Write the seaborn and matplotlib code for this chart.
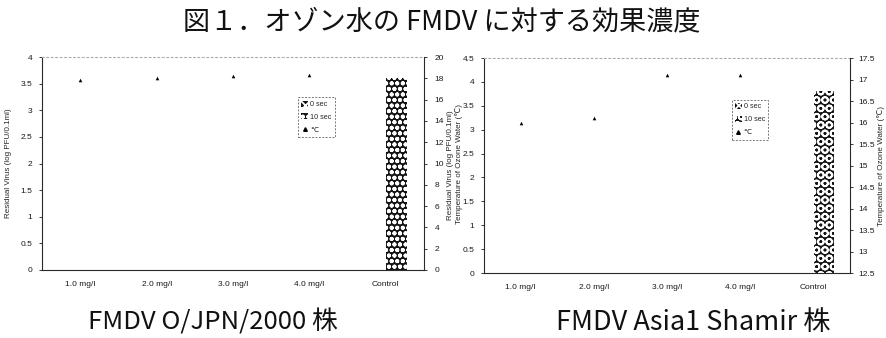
import matplotlib
matplotlib.use("Agg")
import matplotlib.pyplot as plt
from matplotlib.patches import Patch
from matplotlib.lines import Line2D
from matplotlib.ticker import FuncFormatter, MultipleLocator
import seaborn as sns
import pandas as pd

# ---- data ----
concentrations = ["1.0 mg/l", "2.0 mg/l", "3.0 mg/l", "4.0 mg/l", "Control"]
contact_times = ["0 sec", "10 sec"]

# residual virus, log PFU/0.1ml
jpn_virus_0s = [0, 0, 0, 0, 0]
jpn_virus_10s = [0, 0, 0, 0, 3.6]
asia_virus_0s = [0, 0, 0, 0, 0]
asia_virus_10s = [0, 0, 0, 0, 3.82]

# ozone water temperature, deg C (no reading for the control)
jpn_temp = [17.8, 18.0, 18.2, 18.3]
asia_temp = [16.0, 16.1, 17.1, 17.1]

title_text = "図１．オゾン水の FMDV に対する効果濃度"
strain_names = ["FMDV O/JPN/2000 株", "FMDV Asia1 Shamir 株"]
virus_label = "Residual Virus (log PFU/0.1ml)"
temp_label = "Temperature of Ozone Water (℃)"

sns.set_theme(style="white")
plt.rcParams["font.family"] = ["Liberation Sans", "DejaVu Sans"]
plt.rcParams["hatch.linewidth"] = 1.3

fig = plt.figure(figsize=(8.87, 3.38), dpi=100)
fig.patch.set_facecolor("white")

hatch_0s = "xxx"
panel_hatch_10s = ["ooo", "OO"]
cjk = ["Noto Sans CJK JP", "DejaVu Sans"]


def fmt(v, _pos):
    return "%g" % v


def draw_panel(rect, v0, v10, temps, vmax, vstep, tlim, tstep, hatch10,
               legend_anchor, right_pad, right_labelpad):
    ax = fig.add_axes(rect)
    df = pd.DataFrame({
        "conc": concentrations * 2,
        "time": [contact_times[0]] * len(concentrations) + [contact_times[1]] * len(concentrations),
        "virus": list(v0) + list(v10),
    })
    sns.barplot(data=df, x="conc", y="virus", hue="time", hue_order=contact_times,
                order=concentrations, width=0.55, ax=ax, legend=False,
                errorbar=None)
    for patch in ax.patches:
        if patch.get_height() > 0:
            patch.set_facecolor("#141414")
            patch.set_edgecolor("white")
            patch.set_hatch(hatch10)
            patch.set_linewidth(0)
        else:
            patch.set_visible(False)

    ax.set_ylim(0, vmax)
    ax.yaxis.set_major_locator(MultipleLocator(vstep))
    ax.yaxis.set_major_formatter(FuncFormatter(fmt))
    ax.set_xlabel("")
    ax.set_ylabel(virus_label, fontsize=5.8, labelpad=6)
    ax.tick_params(axis="y", labelsize=6, length=2, width=0.6, pad=5,
                   direction="out", left=True, colors="#1a1a1a")
    ax.tick_params(axis="x", labelsize=6, length=0, pad=8, colors="#1a1a1a")
    for sp in ("left", "bottom"):
        ax.spines[sp].set_color("#2a2a2a")
        ax.spines[sp].set_linewidth(0.8)
    ax.spines["top"].set_color("#aaaaaa")
    ax.spines["top"].set_linewidth(0.8)
    ax.spines["top"].set_linestyle((0, (1.5, 2.5)))
    ax.spines["right"].set_visible(False)

    ax2 = ax.twinx()
    tdf = pd.DataFrame({"conc": concentrations[:len(temps)], "temp": temps})
    sns.stripplot(data=tdf, x="conc", y="temp", order=concentrations, jitter=False,
                  marker="^", color="black", size=2.6, linewidth=0, ax=ax2)
    ax2.set_ylim(*tlim)
    ax2.yaxis.set_major_locator(MultipleLocator(tstep))
    ax2.yaxis.set_major_formatter(FuncFormatter(fmt))
    ax2.set_xlabel("")
    ax2.set_ylabel(temp_label, fontsize=5.8, rotation=90, labelpad=right_labelpad)
    ax2.tick_params(axis="y", labelsize=6, length=2.5, width=0.6, pad=right_pad,
                    direction="out", right=True, colors="#1a1a1a")
    for sp in ("left", "bottom", "top"):
        ax2.spines[sp].set_visible(False)
    ax2.spines["right"].set_color("#2a2a2a")
    ax2.spines["right"].set_linewidth(0.8)

    handles = [
        Patch(facecolor="#141414", edgecolor="white", hatch=hatch_0s,
              linewidth=0, label=contact_times[0]),
        Patch(facecolor="#141414", edgecolor="white", hatch=hatch10,
              linewidth=0, label=contact_times[1]),
        Line2D([], [], marker="^", color="black", linestyle="none",
               markersize=2.6, label="℃"),
    ]
    leg = ax.legend(handles=handles, loc="upper left", bbox_to_anchor=legend_anchor,
                    bbox_transform=fig.transFigure, fontsize=5.2, frameon=True,
                    fancybox=False, handlelength=0.9, handleheight=0.9,
                    handletextpad=0.3, labelspacing=0.75, borderpad=0.45,
                    borderaxespad=0)
    frame = leg.get_frame()
    frame.set_edgecolor("#555555")
    frame.set_linewidth(0.7)
    frame.set_linestyle((0, (2, 1.5)))
    return ax, ax2


draw_panel([0.0474, 0.2012, 0.4307, 0.630], jpn_virus_0s, jpn_virus_10s, jpn_temp,
           4, 0.5, (0, 20), 2, panel_hatch_10s[0], (0.336, 0.712), 5, 8)
draw_panel([0.5457, 0.1923, 0.413, 0.636], asia_virus_0s, asia_virus_10s, asia_temp,
           4.5, 0.5, (12.5, 17.5), 0.5, panel_hatch_10s[1], (0.825, 0.705), 3, 1.5)

fig.text(0.498, 0.936, title_text, ha="center", va="center", fontsize=19.5,
         family=cjk, color="#111111")
fig.text(0.240, 0.046, strain_names[0], ha="center", va="center", fontsize=18.5,
         family=cjk, color="#111111")
fig.text(0.782, 0.046, strain_names[1], ha="center", va="center", fontsize=19.5,
         family=cjk, color="#111111")

fig.savefig("out.png", dpi=100, facecolor="white")
